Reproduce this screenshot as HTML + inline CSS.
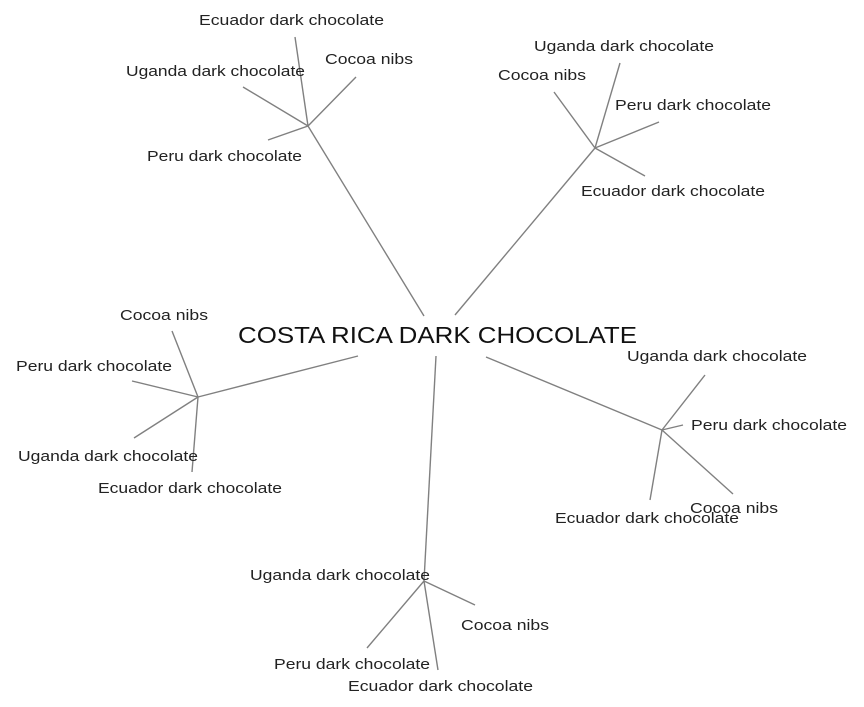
<!DOCTYPE html>
<html><head><style>body{margin:0;background:#fff}svg{display:block}</style></head><body>
<svg width="864" height="707" xmlns="http://www.w3.org/2000/svg" font-family="Liberation Sans, sans-serif">
<g stroke="#808080" stroke-width="1.4" fill="none">
<line x1="308" y1="126" x2="424" y2="316"/>
<line x1="308" y1="126" x2="295" y2="37"/>
<line x1="308" y1="126" x2="356" y2="77"/>
<line x1="308" y1="126" x2="243" y2="87"/>
<line x1="308" y1="126" x2="268" y2="140"/>
<line x1="595" y1="148" x2="455" y2="315"/>
<line x1="595" y1="148" x2="620" y2="63"/>
<line x1="595" y1="148" x2="554" y2="92"/>
<line x1="595" y1="148" x2="659" y2="122"/>
<line x1="595" y1="148" x2="645" y2="176"/>
<line x1="198" y1="397" x2="358" y2="356"/>
<line x1="198" y1="397" x2="172" y2="331"/>
<line x1="198" y1="397" x2="132" y2="381"/>
<line x1="198" y1="397" x2="134" y2="438"/>
<line x1="198" y1="397" x2="192" y2="472"/>
<line x1="662" y1="430" x2="486" y2="357"/>
<line x1="662" y1="430" x2="705" y2="375"/>
<line x1="662" y1="430" x2="683" y2="425"/>
<line x1="662" y1="430" x2="733" y2="494"/>
<line x1="662" y1="430" x2="650" y2="500"/>
<line x1="424" y1="581" x2="436" y2="356"/>
<line x1="424" y1="581" x2="475" y2="605"/>
<line x1="424" y1="581" x2="367" y2="648"/>
<line x1="424" y1="581" x2="438" y2="670"/>
</g>
<g font-size="15" fill="#222">
<text x="199" y="25" textLength="185" lengthAdjust="spacingAndGlyphs">Ecuador dark chocolate</text>
<text x="325" y="64" textLength="88" lengthAdjust="spacingAndGlyphs">Cocoa nibs</text>
<text x="126" y="76" textLength="179" lengthAdjust="spacingAndGlyphs">Uganda dark chocolate</text>
<text x="147" y="161" textLength="155" lengthAdjust="spacingAndGlyphs">Peru dark chocolate</text>
<text x="534" y="51" textLength="180" lengthAdjust="spacingAndGlyphs">Uganda dark chocolate</text>
<text x="498" y="80" textLength="88" lengthAdjust="spacingAndGlyphs">Cocoa nibs</text>
<text x="615" y="110" textLength="156" lengthAdjust="spacingAndGlyphs">Peru dark chocolate</text>
<text x="581" y="196" textLength="184" lengthAdjust="spacingAndGlyphs">Ecuador dark chocolate</text>
<text x="120" y="320" textLength="88" lengthAdjust="spacingAndGlyphs">Cocoa nibs</text>
<text x="16" y="371" textLength="156" lengthAdjust="spacingAndGlyphs">Peru dark chocolate</text>
<text x="18" y="461" textLength="180" lengthAdjust="spacingAndGlyphs">Uganda dark chocolate</text>
<text x="98" y="493" textLength="184" lengthAdjust="spacingAndGlyphs">Ecuador dark chocolate</text>
<text x="627" y="361" textLength="180" lengthAdjust="spacingAndGlyphs">Uganda dark chocolate</text>
<text x="691" y="430" textLength="156" lengthAdjust="spacingAndGlyphs">Peru dark chocolate</text>
<text x="690" y="513" textLength="88" lengthAdjust="spacingAndGlyphs">Cocoa nibs</text>
<text x="555" y="523" textLength="184" lengthAdjust="spacingAndGlyphs">Ecuador dark chocolate</text>
<text x="250" y="580" textLength="180" lengthAdjust="spacingAndGlyphs">Uganda dark chocolate</text>
<text x="461" y="630" textLength="88" lengthAdjust="spacingAndGlyphs">Cocoa nibs</text>
<text x="274" y="669" textLength="156" lengthAdjust="spacingAndGlyphs">Peru dark chocolate</text>
<text x="348" y="691" textLength="185" lengthAdjust="spacingAndGlyphs">Ecuador dark chocolate</text>
</g>
<text x="238" y="343" font-size="23" fill="#111" textLength="399" lengthAdjust="spacingAndGlyphs">COSTA RICA DARK CHOCOLATE</text>
</svg>
</body></html>
